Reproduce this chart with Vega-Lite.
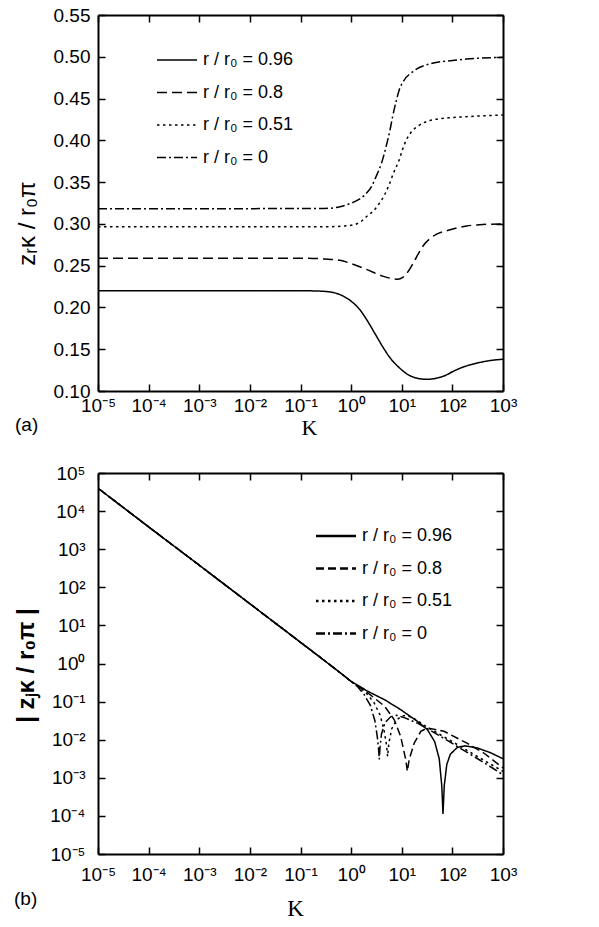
{
"$schema": "https://vega.github.io/schema/vega-lite/v6.json",
"padding": {"left": 14, "top": 6, "right": 5, "bottom": 5},
"spacing": 82,
"bounds": "flush",
"resolve": {"scale": {"strokeDash": "independent"}, "legend": {"strokeDash": "independent"}},
"config": {
  "view": {"stroke": null},
  "font": "Liberation Sans",
  "axis": {"domainColor": "black", "domainWidth": 2, "tickColor": "black", "tickWidth": 1.5, "tickSize": -7, "labelColor": "black", "labelFont": "Liberation Sans", "labelFontSize": 19, "grid": false, "titleColor": "black", "labelFlush": false, "labelOverlap": false},
  "legend": {"padding": 0},
  "title": {"color": "black", "font": "Liberation Sans", "fontSize": 19, "fontWeight": "normal"}
},
"datasets": {
 "a": [
  {"K":1e-5,"v":0.220,"s":"0.96"},{"K":0.1,"v":0.220,"s":"0.96"},{"K":0.25,"v":0.2195,"s":"0.96"},{"K":0.45,"v":0.2178,"s":"0.96"},{"K":0.7,"v":0.2135,"s":"0.96"},{"K":1,"v":0.2075,"s":"0.96"},{"K":1.5,"v":0.197,"s":"0.96"},{"K":2,"v":0.186,"s":"0.96"},{"K":3,"v":0.168,"s":"0.96"},{"K":4.2,"v":0.153,"s":"0.96"},{"K":6,"v":0.139,"s":"0.96"},{"K":8.9,"v":0.128,"s":"0.96"},{"K":13,"v":0.120,"s":"0.96"},{"K":19.5,"v":0.1155,"s":"0.96"},{"K":31,"v":0.114,"s":"0.96"},{"K":50,"v":0.1155,"s":"0.96"},{"K":75,"v":0.119,"s":"0.96"},{"K":100,"v":0.123,"s":"0.96"},{"K":160,"v":0.1285,"s":"0.96"},{"K":250,"v":0.132,"s":"0.96"},{"K":500,"v":0.136,"s":"0.96"},{"K":1000,"v":0.138,"s":"0.96"},
  {"K":1e-5,"v":0.259,"s":"0.8"},{"K":0.1,"v":0.259,"s":"0.8"},{"K":0.3,"v":0.258,"s":"0.8"},{"K":0.6,"v":0.2565,"s":"0.8"},{"K":1,"v":0.2525,"s":"0.8"},{"K":2,"v":0.2455,"s":"0.8"},{"K":4.2,"v":0.2375,"s":"0.8"},{"K":6.5,"v":0.2345,"s":"0.8"},{"K":8.3,"v":0.2337,"s":"0.8"},{"K":10.5,"v":0.236,"s":"0.8"},{"K":13,"v":0.242,"s":"0.8"},{"K":17,"v":0.2535,"s":"0.8"},{"K":22,"v":0.266,"s":"0.8"},{"K":27,"v":0.2745,"s":"0.8"},{"K":40,"v":0.2845,"s":"0.8"},{"K":87,"v":0.2927,"s":"0.8"},{"K":190,"v":0.2975,"s":"0.8"},{"K":400,"v":0.2992,"s":"0.8"},{"K":1000,"v":0.300,"s":"0.8"},
  {"K":1e-5,"v":0.2965,"s":"0.51"},{"K":0.3,"v":0.2965,"s":"0.51"},{"K":0.9,"v":0.298,"s":"0.51"},{"K":1.5,"v":0.302,"s":"0.51"},{"K":2,"v":0.3086,"s":"0.51"},{"K":3,"v":0.318,"s":"0.51"},{"K":3.6,"v":0.3246,"s":"0.51"},{"K":4.6,"v":0.335,"s":"0.51"},{"K":5.6,"v":0.3466,"s":"0.51"},{"K":7,"v":0.362,"s":"0.51"},{"K":8.9,"v":0.3765,"s":"0.51"},{"K":10.5,"v":0.390,"s":"0.51"},{"K":12.3,"v":0.4004,"s":"0.51"},{"K":16,"v":0.411,"s":"0.51"},{"K":22.4,"v":0.4183,"s":"0.51"},{"K":40,"v":0.4243,"s":"0.51"},{"K":100,"v":0.4273,"s":"0.51"},{"K":190,"v":0.4283,"s":"0.51"},{"K":1000,"v":0.4303,"s":"0.51"},
  {"K":1e-5,"v":0.318,"s":"0"},{"K":0.3,"v":0.3185,"s":"0"},{"K":0.6,"v":0.3205,"s":"0"},{"K":0.9,"v":0.3238,"s":"0"},{"K":1.4,"v":0.329,"s":"0"},{"K":2,"v":0.3366,"s":"0"},{"K":2.6,"v":0.346,"s":"0"},{"K":3.1,"v":0.3565,"s":"0"},{"K":4,"v":0.373,"s":"0"},{"K":4.9,"v":0.3924,"s":"0"},{"K":5.8,"v":0.411,"s":"0"},{"K":6.6,"v":0.4283,"s":"0"},{"K":7.7,"v":0.446,"s":"0"},{"K":8.9,"v":0.4602,"s":"0"},{"K":11,"v":0.4715,"s":"0"},{"K":16.6,"v":0.4822,"s":"0"},{"K":40,"v":0.4922,"s":"0"},{"K":100,"v":0.4955,"s":"0"},{"K":190,"v":0.4973,"s":"0"},{"K":1000,"v":0.4994,"s":"0"}
 ],
 "b": [
  {"K":1.05e-5,"v":38000,"s":"0.96"},{"K":1e-4,"v":3850,"s":"0.96"},{"K":1e-3,"v":380,"s":"0.96"},{"K":0.01,"v":37,"s":"0.96"},{"K":0.1,"v":3.6,"s":"0.96"},{"K":0.3,"v":1.18,"s":"0.96"},{"K":0.6,"v":0.58,"s":"0.96"},{"K":1,"v":0.339,"s":"0.96"},{"K":2.14,"v":0.186,"s":"0.96"},{"K":4.57,"v":0.112,"s":"0.96"},{"K":9.5,"v":0.0617,"s":"0.96"},{"K":20.4,"v":0.0302,"s":"0.96"},{"K":32,"v":0.0185,"s":"0.96"},{"K":44.7,"v":0.0089,"s":"0.96"},{"K":55,"v":0.00316,"s":"0.96"},{"K":61.7,"v":0.00063,"s":"0.96"},{"K":65.3,"v":0.000112,"s":"0.96"},{"K":69.2,"v":0.00063,"s":"0.96"},{"K":77.6,"v":0.00224,"s":"0.96"},{"K":91.2,"v":0.00417,"s":"0.96"},{"K":126,"v":0.00631,"s":"0.96"},{"K":178,"v":0.00692,"s":"0.96"},{"K":316,"v":0.00603,"s":"0.96"},{"K":562,"v":0.00457,"s":"0.96"},{"K":1000,"v":0.00316,"s":"0.96"},
  {"K":1.05e-5,"v":38000,"s":"0.8"},{"K":1e-4,"v":3850,"s":"0.8"},{"K":1e-3,"v":380,"s":"0.8"},{"K":0.01,"v":37,"s":"0.8"},{"K":0.1,"v":3.6,"s":"0.8"},{"K":0.3,"v":1.18,"s":"0.8"},{"K":0.6,"v":0.58,"s":"0.8"},{"K":1,"v":0.339,"s":"0.8"},{"K":2.14,"v":0.170,"s":"0.8"},{"K":4.57,"v":0.0759,"s":"0.8"},{"K":7.08,"v":0.0339,"s":"0.8"},{"K":9.5,"v":0.0123,"s":"0.8"},{"K":12.0,"v":0.0030,"s":"0.8"},{"K":12.9,"v":0.00148,"s":"0.8"},{"K":14.0,"v":0.0030,"s":"0.8"},{"K":17.6,"v":0.0081,"s":"0.8"},{"K":23.8,"v":0.0166,"s":"0.8"},{"K":32.1,"v":0.0204,"s":"0.8"},{"K":68.4,"v":0.0166,"s":"0.8"},{"K":195,"v":0.0081,"s":"0.8"},{"K":417,"v":0.00447,"s":"0.8"},{"K":1000,"v":0.00182,"s":"0.8"},
  {"K":1.05e-5,"v":38000,"s":"0.51"},{"K":1e-4,"v":3850,"s":"0.51"},{"K":1e-3,"v":380,"s":"0.51"},{"K":0.01,"v":37,"s":"0.51"},{"K":0.1,"v":3.6,"s":"0.51"},{"K":0.3,"v":1.18,"s":"0.51"},{"K":0.6,"v":0.58,"s":"0.51"},{"K":1,"v":0.339,"s":"0.51"},{"K":1.41,"v":0.251,"s":"0.51"},{"K":2.0,"v":0.166,"s":"0.51"},{"K":2.82,"v":0.0955,"s":"0.51"},{"K":3.72,"v":0.0447,"s":"0.51"},{"K":4.47,"v":0.0178,"s":"0.51"},{"K":5.01,"v":0.00708,"s":"0.51"},{"K":5.25,"v":0.00363,"s":"0.51"},{"K":5.56,"v":0.00794,"s":"0.51"},{"K":6.31,"v":0.0191,"s":"0.51"},{"K":7.94,"v":0.0331,"s":"0.51"},{"K":10,"v":0.0417,"s":"0.51"},{"K":12.6,"v":0.0437,"s":"0.51"},{"K":17.8,"v":0.0355,"s":"0.51"},{"K":31.6,"v":0.0214,"s":"0.51"},{"K":63.1,"v":0.0126,"s":"0.51"},{"K":126,"v":0.00741,"s":"0.51"},{"K":251,"v":0.00427,"s":"0.51"},{"K":501,"v":0.00251,"s":"0.51"},{"K":1000,"v":0.00148,"s":"0.51"},
  {"K":1.05e-5,"v":38000,"s":"0"},{"K":1e-4,"v":3850,"s":"0"},{"K":1e-3,"v":380,"s":"0"},{"K":0.01,"v":37,"s":"0"},{"K":0.1,"v":3.6,"s":"0"},{"K":0.3,"v":1.18,"s":"0"},{"K":0.6,"v":0.58,"s":"0"},{"K":1,"v":0.339,"s":"0"},{"K":1.32,"v":0.251,"s":"0"},{"K":1.78,"v":0.158,"s":"0"},{"K":2.40,"v":0.0794,"s":"0"},{"K":2.95,"v":0.0316,"s":"0"},{"K":3.31,"v":0.0112,"s":"0"},{"K":3.51,"v":0.00501,"s":"0"},{"K":3.6,"v":0.00302,"s":"0"},{"K":3.72,"v":0.00631,"s":"0"},{"K":3.98,"v":0.0141,"s":"0"},{"K":4.68,"v":0.0282,"s":"0"},{"K":6.03,"v":0.0398,"s":"0"},{"K":7.94,"v":0.0437,"s":"0"},{"K":11.2,"v":0.038,"s":"0"},{"K":20,"v":0.0275,"s":"0"},{"K":39.8,"v":0.0166,"s":"0"},{"K":79.4,"v":0.00955,"s":"0"},{"K":158,"v":0.0055,"s":"0"},{"K":316,"v":0.00316,"s":"0"},{"K":631,"v":0.00178,"s":"0"},{"K":1000,"v":0.0012,"s":"0"}
 ]
},
"vconcat": [
 {
  "width": 405, "height": 376,
  "data": {"name": "a"},
  "title": {"text": "(a)", "orient": "bottom", "anchor": "start", "frame": "bounds", "offset": 0, "dy": -22},
  "layer": [
   {"mark": {"type": "line", "strokeWidth": 1.5, "interpolate": "monotone", "color": "black"},
    "encoding": {
     "x": {"field": "K", "type": "quantitative", "scale": {"type": "log", "domain": [1e-5, 1000], "nice": false},
       "axis": {"values": [1e-5,1e-4,1e-3,1e-2,1e-1,1,10,100,1000], "labelPadding": 12,
         "labelExpr": "'10' + (datum.value < 0.5 ? '⁻' : '') + ['⁰','¹','²','³','⁴','⁵'][abs(round(log(datum.value)/LN10))]",
         "title": "K", "titleFont": "Liberation Serif", "titleFontSize": 22, "titleFontWeight": "normal", "titleX": 211, "titleY": 36, "titleBaseline": "middle", "titleAlign": "center"}},
     "y": {"field": "v", "type": "quantitative", "scale": {"domain": [0.1, 0.55], "nice": false, "zero": false},
       "axis": {"values": [0.1,0.15,0.2,0.25,0.3,0.35,0.4,0.45,0.5,0.55], "format": ".2f", "labelPadding": 15,
         "title": "zᵣκ / r₀π", "titleFontSize": 24, "titleFontWeight": "normal", "titleX": -71, "titleY": 208, "titleAngle": 270, "titleAlign": "center", "titleBaseline": "middle"}},
     "strokeDash": {"field": "s", "type": "nominal",
       "scale": {"domain": ["0.96","0.8","0.51","0"], "range": [[1,0],[10,5],[2.5,3.5],[9,3,2,3]]},
       "legend": {"orient": "none", "legendX": 70, "legendY": 36, "title": null, "symbolType": "M-4,0H4", "symbolSize": 100, "symbolStrokeWidth": 1.5, "symbolStrokeColor": "black", "labelFontSize": 18, "labelFont": "Liberation Sans", "labelColor": "black", "labelOffset": 17, "rowPadding": 14.5, "labelExpr": "'r / r₀ = ' + datum.label"}}
    }},
   {"mark": {"type": "line", "opacity": 0},
    "encoding": {
     "x": {"field": "K", "type": "quantitative", "scale": {"type": "log", "domain": [1e-5, 1000], "nice": false},
       "axis": {"orient": "top", "values": [1e-5,1e-4,1e-3,1e-2,1e-1,1,10,100,1000], "labels": false, "title": null}},
     "y": {"field": "v", "type": "quantitative", "scale": {"domain": [0.1, 0.55], "nice": false, "zero": false},
       "axis": {"orient": "right", "values": [0.1,0.15,0.2,0.25,0.3,0.35,0.4,0.45,0.5,0.55], "labels": false, "title": null}},
     "detail": {"field": "s", "type": "nominal"}
    }}
  ],
  "resolve": {"axis": {"x": "independent", "y": "independent"}}
 },
 {
  "width": 405, "height": 381,
  "data": {"name": "b"},
  "title": {"text": "(b)", "orient": "bottom", "anchor": "start", "frame": "bounds", "offset": 0, "dy": -30},
  "layer": [
   {"mark": {"type": "line", "strokeWidth": 1.5, "color": "black"},
    "encoding": {
     "x": {"field": "K", "type": "quantitative", "scale": {"type": "log", "domain": [1e-5, 1000], "nice": false},
       "axis": {"values": [1e-5,1e-4,1e-3,1e-2,1e-1,1,10,100,1000], "labelPadding": 18,
         "labelExpr": "'10' + (datum.value < 0.5 ? '⁻' : '') + ['⁰','¹','²','³','⁴','⁵'][abs(round(log(datum.value)/LN10))]",
         "title": "K", "titleFont": "Liberation Serif", "titleFontSize": 23, "titleFontWeight": "normal", "titleX": 197, "titleY": 54, "titleBaseline": "middle", "titleAlign": "center"}},
     "y": {"field": "v", "type": "quantitative", "scale": {"type": "log", "domain": [1e-5, 1e5], "nice": false},
       "axis": {"values": [1e-5,1e-4,1e-3,1e-2,1e-1,1,10,100,1000,1e4,1e5], "labelPadding": 20,
         "labelExpr": "'10' + (datum.value < 0.5 ? '⁻' : '') + ['⁰','¹','²','³','⁴','⁵'][abs(round(log(datum.value)/LN10))]",
         "title": "| zⱼκ / r₀π |", "titleFontSize": 24, "titleFontWeight": "bold", "titleX": -72, "titleY": 192, "titleAngle": 270, "titleAlign": "center", "titleBaseline": "middle"}},
     "strokeDash": {"field": "s", "type": "nominal",
       "scale": {"domain": ["0.96","0.8","0.51","0"], "range": [[1,0],[8,4],[2.5,3.5],[9,3,2,3]]},
       "legend": {"orient": "none", "legendX": 229, "legendY": 54, "title": null, "symbolType": "M-4,0H4", "symbolSize": 100, "symbolStrokeWidth": 2.5, "symbolStrokeColor": "black", "labelFontSize": 18, "labelFont": "Liberation Sans", "labelColor": "black", "labelOffset": 17, "rowPadding": 14.5, "labelExpr": "'r / r₀ = ' + datum.label"}}
    }},
   {"mark": {"type": "line", "opacity": 0},
    "encoding": {
     "x": {"field": "K", "type": "quantitative", "scale": {"type": "log", "domain": [1e-5, 1000], "nice": false},
       "axis": {"orient": "top", "values": [1e-5,1e-4,1e-3,1e-2,1e-1,1,10,100,1000], "labels": false, "title": null}},
     "y": {"field": "v", "type": "quantitative", "scale": {"type": "log", "domain": [1e-5, 1e5], "nice": false},
       "axis": {"orient": "right", "values": [1e-5,1e-4,1e-3,1e-2,1e-1,1,10,100,1000,1e4,1e5], "labels": false, "title": null}},
     "detail": {"field": "s", "type": "nominal"}
    }}
  ],
  "resolve": {"axis": {"x": "independent", "y": "independent"}}
 }
]
}
